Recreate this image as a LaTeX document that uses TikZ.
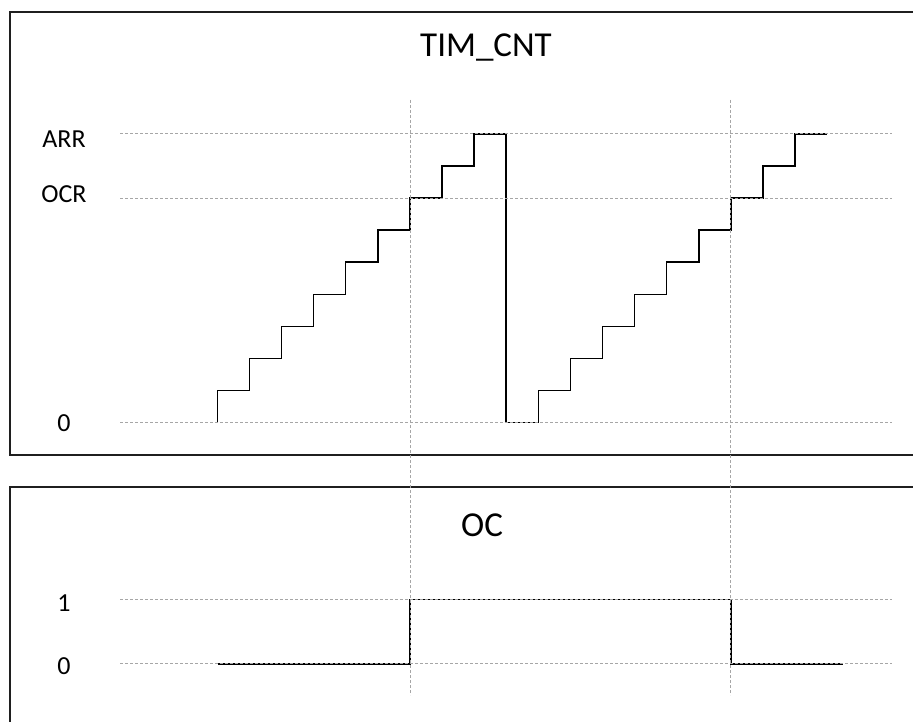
\documentclass[tikz,border=0pt]{standalone}
\usepackage{fontspec}
\setmainfont{Carlito}
\begin{document}
\begin{tikzpicture}[x=1pt,y=-1pt,
  frame/.style={draw=black!88,line width=1.8pt},
  grid/.style={draw=black!35,line width=1pt,dash pattern=on 3pt off 2pt},
  wave/.style={draw=black,line width=1.5pt},
  ocwave/.style={draw=black,line width=1.6pt},
  title/.style={font=\fontsize{35}{40}\selectfont,inner sep=0pt},
  lbl/.style={font=\fontsize{26}{30}\selectfont,inner sep=0pt}]
\clip (0,0) rectangle (913,722);
\useasboundingbox (0,0) rectangle (913,722);
\fill[white] (0,0) rectangle (913,722);
% panels
\draw[frame] (10,11.7) rectangle (940,455);
\draw[frame] (10,487) rectangle (940,760);
% titles
\node[title] (tcnt) at (486,47) {TIM\_CNT};
\node[title] (oc) at (482,525) {OC};
% axis labels
\node[lbl] (larr) at (64,139) {ARR};
\node[lbl] (locr) at (64,194) {OCR};
\node[lbl] (lzero) at (64,423) {0};
\node[lbl] (lone) at (64,603) {1};
\node[lbl] (lzerob) at (64,666) {0};
% counter staircase
\draw[wave] (217.3,422.7)
  \foreach \k in {1,...,9} { -- ++(0,-32.1) -- ++(32.1,0) }
  -- ++(0,288.9) -- ++(32.1,0)
  \foreach \k in {1,...,9} { -- ++(0,-32.1) -- ++(32.1,0) };
% OC waveform
\draw[ocwave] (218,663.7) -- (410,663.7) -- (410,599.3) -- (730.7,599.3) -- (730.7,663.7) -- (843,663.7);
% grid lines
\draw[grid] (120,133.7) -- (892,133.7);
\draw[grid] (120,198.1) -- (892,198.1);
\draw[grid] (120,422.7) -- (892,422.7);
\draw[grid] (120,599.3) -- (892,599.3);
\draw[grid] (120,663.7) -- (892,663.7);
\draw[grid] (410,100) -- (410,695);
\draw[grid] (730.7,100) -- (730.7,695);
\end{tikzpicture}
\end{document}
